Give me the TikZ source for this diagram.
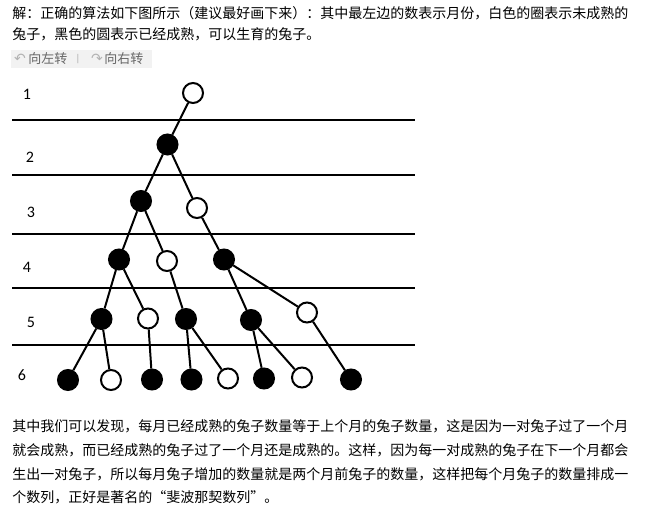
\documentclass[tikz,border=0pt]{standalone}
\usepackage{fontspec}
\setmainfont{Noto Sans CJK SC}
\newfontfamily\numfont{Carlito}
\newfontfamily\symfont{DejaVu Sans}
\tikzset{
  para/.style={anchor=west, inner sep=0pt, font=\fontsize{10.5pt}{12pt}\selectfont},
  btn/.style={anchor=west, inner sep=0pt, text=black!60, font=\fontsize{9.75pt}{11pt}\selectfont},
  btnicon/.style={inner sep=0pt, text=black!30, font=\symfont\fontsize{10.5pt}{12pt}\selectfont},
  month/.style={inner sep=0pt, font=\numfont\fontsize{12pt}{14pt}\selectfont},
  young/.style={circle, draw=black, fill=white, line width=1.5pt, minimum size=15pt, inner sep=0pt},
  adult/.style={young, fill=black},
  link/.style={line width=1.5pt},
  rule/.style={line width=1.5pt}
}
\begin{document}
\begin{tikzpicture}[x=0.75pt,y=-0.75pt]
		%%%%% START %%%%%
		\useasboundingbox (0,0) rectangle (651,516);
		
		\node[para] (top1) at (12,13) {解：正确的算法如下图所示（建议最好画下来）：其中最左边的数表示月份，白色的圈表示未成熟的};
		\node[para] (top2) at (12,34) {兔子，黑色的圆表示已经成熟，可以生育的兔子。};
		
		\fill[black!5] (11,50) rectangle (152,68);
		\node[btnicon] (iconl) at (20,59) {↶};
		\node[btn] (left) at (28,59) {向左转};
		\node[btnicon, font=\symfont\fontsize{7pt}{8pt}\selectfont] (bar) at (78,59) {|};
		\node[btnicon] (iconr) at (97,59) {↷};
		\node[btn] (right) at (104,59) {向右转};
		
		\draw[rule] (12,120.5) -- (415,120.5);
		\draw[rule] (12,175.5) -- (415,175.5);
		\draw[rule] (12,234.5) -- (415,234.5);
		\draw[rule] (12,288.5) -- (415,288.5);
		\draw[rule] (12,345.5) -- (415,345.5);
		
		\node[month] (m1) at (27,94) {1};
		\node[month] (m2) at (30,157) {2};
		\node[month] (m3) at (31,212) {3};
		\node[month] (m4) at (27,267) {4};
		\node[month] (m5) at (31,322) {5};
		\node[month] (m6) at (22,375) {6};
		
		\node[young] (a) at (193,93) {};
		
		\node[adult] (b) at (167.5,144.5) {};
		
		\node[adult] (ca) at (141,201) {};
		\node[young] (cb) at (197,208) {};
		
		\node[adult] (da) at (119,259.5) {};
		\node[young] (db) at (167,261) {};
		\node[adult] (dc) at (224,259.5) {};
		
		\node[adult] (ea) at (101.5,319) {};
		\node[young] (eb) at (148,318.5) {};
		\node[adult] (ec) at (186,319) {};
		\node[adult] (ed) at (251,320) {};
		\node[young] (ee) at (307,312.5) {};
		
		\node[adult] (fa) at (68,380) {};
		\node[young] (fb) at (111,380) {};
		\node[adult] (fc) at (152,379.5) {};
		\node[adult] (fd) at (191.5,379.5) {};
		\node[young] (fe) at (228,378.5) {};
		\node[adult] (ff) at (264,378.5) {};
		\node[young] (fg) at (302,377.5) {};
		\node[adult] (fh) at (351,379.5) {};
		
		\draw[link] (a) -- (b);
		\draw[link] (b) -- (ca);
		\draw[link] (b) -- (cb);
		\draw[link] (ca) -- (da);
		\draw[link] (ca) -- (db);
		\draw[link] (cb) -- (dc);
		\draw[link] (da) -- (ea);
		\draw[link] (da) -- (eb);
		\draw[link] (db) -- (ec);
		\draw[link] (dc) -- (ed);
		\draw[link] (dc) -- (ee);
		\draw[link] (ea) -- (fa);
		\draw[link] (ea) -- (fb);
		\draw[link] (eb) -- (fc);
		\draw[link] (ec) -- (fd);
		\draw[link] (ec) -- (fe);
		\draw[link] (ed) -- (ff);
		\draw[link] (ed) -- (fg);
		\draw[link] (ee) -- (fh);
		
		\node[para] (bot1) at (12,426) {其中我们可以发现，每月已经成熟的兔子数量等于上个月的兔子数量，这是因为一对兔子过了一个月};
		\node[para] (bot2) at (12,450) {就会成熟，而已经成熟的兔子过了一个月还是成熟的。这样，因为每一对成熟的兔子在下一个月都会};
		\node[para] (bot3) at (12,474) {生出一对兔子，所以每月兔子增加的数量就是两个月前兔子的数量，这样把每个月兔子的数量排成一};
		\node[para] (bot4) at (12,497) {个数列，正好是著名的“斐波那契数列”。};
		
		%%%%% END %%%%%
	\end{tikzpicture}
\end{document}
